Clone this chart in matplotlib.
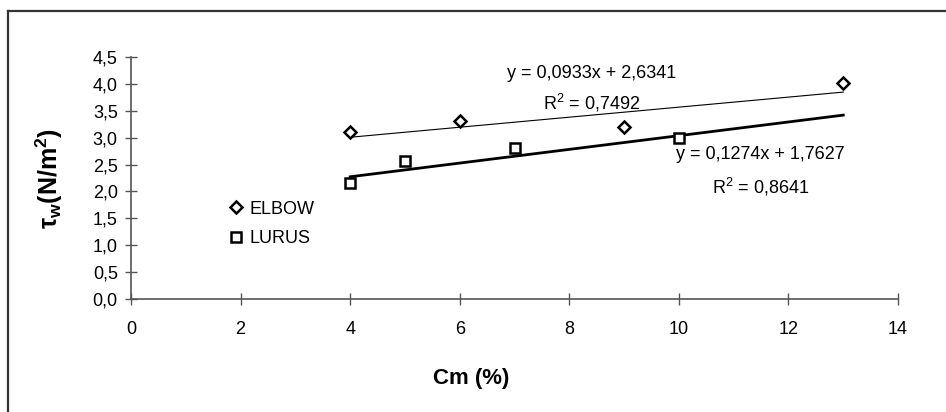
import numpy as np
import matplotlib
matplotlib.use('Agg')
import matplotlib.pyplot as plt
from matplotlib.lines import Line2D
from matplotlib.ticker import FuncFormatter

plt.rcParams['font.family'] = ['Liberation Sans', 'DejaVu Sans']
plt.rcParams['mathtext.fontset'] = 'custom'
plt.rcParams['mathtext.rm'] = 'Liberation Sans'
plt.rcParams['mathtext.it'] = 'Liberation Sans'
plt.rcParams['mathtext.bf'] = 'Liberation Sans:bold'

# data
elbow_x = [4, 6, 9, 13]
elbow_y = [3.10, 3.31, 3.19, 4.01]
lurus_x = [4, 5, 7, 10]
lurus_y = [2.16, 2.57, 2.80, 3.00]

# trend lines as printed on the chart (slope, intercept, r2)
elbow_fit = (0.0933, 2.6341, 0.7492)
lurus_fit = (0.1274, 1.7627, 0.8641)
fit_range = (4, 13)

x_ticks = np.arange(0, 15, 2)
y_ticks = np.arange(0, 4.51, 0.5)

fig = plt.figure(figsize=(9.46, 4.12), dpi=100)
ax = fig.add_axes([0.1385, 0.2743, 0.8108, 0.5874])

# trend lines
xx = np.array(fit_range, dtype=float)
ax.plot(xx, elbow_fit[0]*xx + elbow_fit[1], color='black', lw=0.8, zorder=2)
ax.plot(xx, lurus_fit[0]*xx + lurus_fit[1], color='black', lw=2.0, zorder=2)

# points
ax.plot(elbow_x, elbow_y, linestyle='none', marker='D', ms=6.2, mew=1.8,
        mfc='white', mec='black', label='ELBOW', zorder=3)
ax.plot(lurus_x, lurus_y, linestyle='none', marker='s', ms=7.2, mew=1.8,
        mfc='white', mec='black', label='LURUS', zorder=3)

def eq_text(fit):
    s = f'y = {fit[0]:.4f}x + {fit[1]:.4f}'.replace('.', ',')
    r = f'R$^2$ = {fit[2]:.4f}'.replace('.', ',')
    return s, r

s1, r1 = eq_text(elbow_fit)
s2, r2 = eq_text(lurus_fit)
ax.text(8.40, 4.20, s1, ha='center', va='center', fontsize=13)
ax.text(8.40, 3.65, r1, ha='center', va='center', fontsize=13)
ax.text(11.48, 2.68, s2, ha='center', va='center', fontsize=13)
ax.text(11.50, 2.08, r2, ha='center', va='center', fontsize=13)

ax.set_xlim(0, 14)
ax.set_ylim(0, 4.5)
ax.set_xticks(x_ticks)
ax.set_yticks(y_ticks)
ax.yaxis.set_major_formatter(FuncFormatter(lambda v, p: f'{v:.1f}'.replace('.', ',')))
ax.tick_params(axis='both', direction='inout', length=9, width=1.0,
               color='#555555', labelsize=13)
ax.tick_params(axis='x', pad=11)
ax.tick_params(axis='y', pad=5)

for side in ['top', 'right']:
    ax.spines[side].set_visible(False)
for side in ['left', 'bottom']:
    ax.spines[side].set_color('#555555')
    ax.spines[side].set_linewidth(1.2)

ax.set_xlabel('Cm (%)', fontsize=16, fontweight='bold')
ax.xaxis.set_label_coords(0.443, -0.285)
ax.set_ylabel(r'$\mathbf{τ_w(N/m^2)}$', fontsize=18)
ax.yaxis.set_label_coords(-0.086, 0.5)

ax.legend(loc='center left', bbox_to_anchor=(0.128, 0.31), frameon=False,
          fontsize=13, handlelength=0.8, handletextpad=0.3, labelspacing=0.7,
          borderpad=0, borderaxespad=0)

# outer frame (only left and top edges visible in the crop)
fig.add_artist(Line2D([0.0085, 0.0085], [0, 0.973], transform=fig.transFigure,
                      color='#333333', lw=1.6))
fig.add_artist(Line2D([0.0085, 1.0], [0.973, 0.973], transform=fig.transFigure,
                      color='#333333', lw=1.6))

fig.savefig('out.png', dpi=100)
